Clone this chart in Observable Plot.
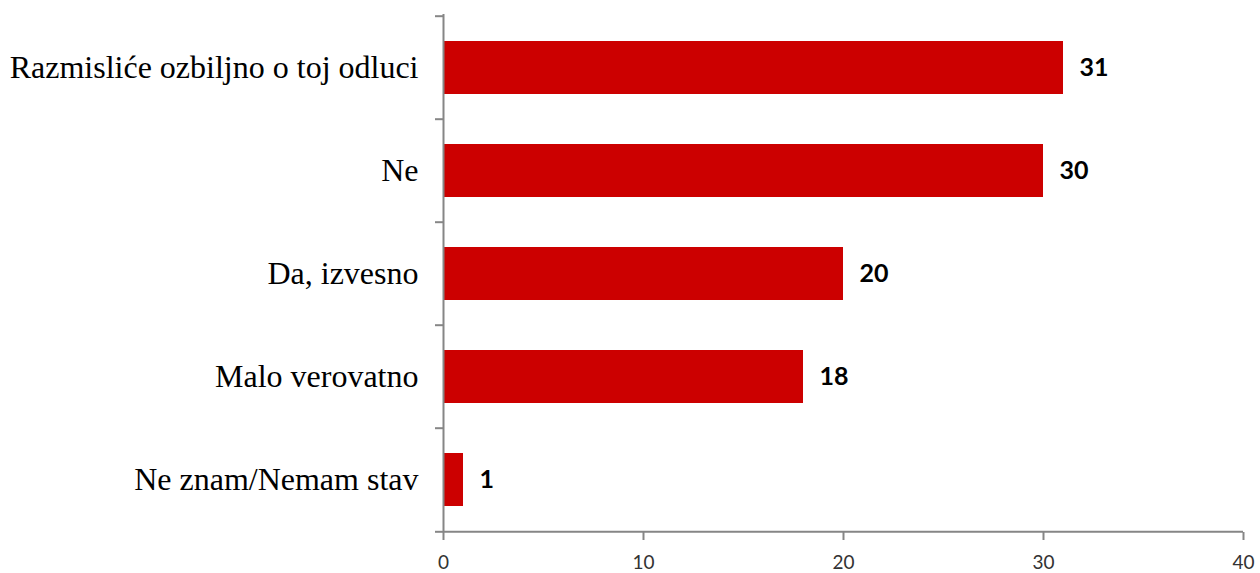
<!DOCTYPE html>
<html>
<head>
<meta charset="utf-8">
<script src="https://cdn.jsdelivr.net/npm/d3@7"></script>
<script src="https://cdn.jsdelivr.net/npm/@observablehq/plot@0.6"></script>
<style>
  html, body { margin: 0; padding: 0; background: #fff; }
</style>
</head>
<body>
<div id="chart"></div>
<script>
const categories = ["Razmisliće ozbiljno o toj odluci", "Ne", "Da, izvesno", "Malo verovatno", "Ne znam/Nemam stav"];
const values = [31, 30, 20, 18, 1];
const xTicks = [0, 10, 20, 30, 40];

const data = categories.map((c, i) => ({category: c, value: values[i]}));

const W = 1260, H = 573;
const mTop = 14, mBottom = 41, mLeft = 443, mRight = 17;
const step = (H - mTop - mBottom) / categories.length;
const axisColor = "#868686";

const chart = Plot.plot({
  width: W,
  height: H,
  marginTop: mTop,
  marginBottom: mBottom,
  marginLeft: mLeft,
  marginRight: mRight,
  style: {background: "#fff", overflow: "visible"},
  x: {domain: [0, 40], axis: null, label: null},
  y: {domain: categories, paddingInner: 0.49, paddingOuter: 0.245, axis: null, label: null},
  marks: [
    Plot.barX(data, {x: "value", y: "category", fill: "#CC0000"}),
    Plot.text(data, {x: "value", y: "category", text: d => String(d.value), textAnchor: "start", dx: 16,
      fontFamily: "Lato", fontWeight: "bold", fontSize: 25, fill: "#000"}),
    // left axis line
    Plot.ruleX([0], {stroke: axisColor, strokeWidth: 2}),
    // band boundary ticks on y axis
    Plot.ruleY(categories, {y: d => d, x1: -0.4, x2: 0, dy: -step / 2, stroke: axisColor, strokeWidth: 2}),
    Plot.ruleY(categories.slice(-1), {y: d => d, x1: -0.4, x2: 0, dy: step / 2, stroke: axisColor, strokeWidth: 2}),
    // bottom axis line
    Plot.ruleY(categories.slice(-1), {y: d => d, x1: 0, x2: 40, dy: step / 2, stroke: axisColor, strokeWidth: 2}),
    // x axis ticks and labels
    Plot.axisX(xTicks, {anchor: "bottom", label: null, tickSize: 8, tickPadding: 15, stroke: axisColor, strokeWidth: 2,
      fontSize: 19, fontFamily: "Lato", fill: "#333"}),
    // category labels
    Plot.axisY({anchor: "left", label: null, tickSize: 0, tickPadding: 25, fontSize: 32, fontFamily: "Liberation Serif", fill: "#000"})
  ]
});
document.getElementById("chart").appendChild(chart);
</script>
</body>
</html>
